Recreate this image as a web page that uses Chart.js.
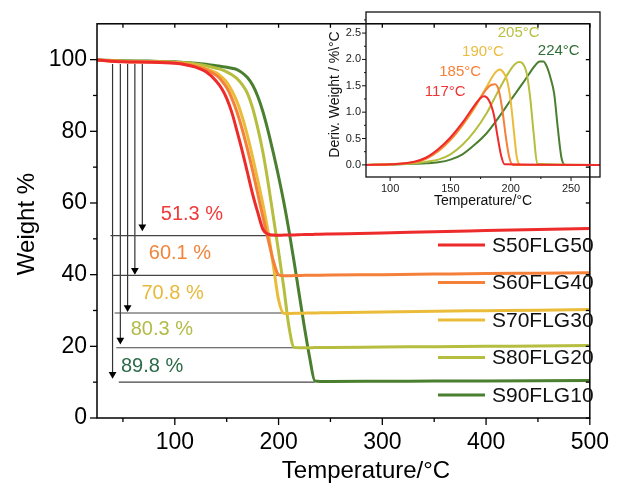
<!DOCTYPE html>
<html>
<head>
<meta charset="utf-8">
<script src="https://cdn.jsdelivr.net/npm/chart.js@4.4.1/dist/chart.umd.min.js"></script>
<style>
  html, body { margin: 0; padding: 0; background: #fff; }
  #wrap { position: relative; width: 620px; height: 492px; }
  #main { position: absolute; left: 0; top: 0; }
  #inset { position: absolute; left: 300px; top: 0; }
</style>
</head>
<body>
<div id="wrap">
  <canvas id="main" width="620" height="492"></canvas>
  <canvas id="inset" width="310" height="215"></canvas>
</div>
<script>
Chart.defaults.font.family = '"Liberation Sans", Arial, Helvetica, sans-serif';
Chart.defaults.color = '#000';

var samples = ['S50FLG50', 'S60FLG40', 'S70FLG30', 'S80FLG20', 'S90FLG10'];
var lineColors = ['#ee2b2b', '#f5803a', '#ebbc3a', '#b5be3e', '#4a7f30'];

// TGA (main chart)
var temps = [25, 50, 75, 100, 110, 120, 130, 140, 145, 150, 155, 160, 165, 170, 175, 180, 185, 190, 195, 200,
             205, 210, 215, 220, 225, 230, 235, 240, 250, 300, 350, 400, 450, 500];
var wS50 = [99.9, 99.4, 99.3, 99.0, 98.6, 97.9, 96.6, 94.0, 92.0, 89.2, 85.2, 80.0, 74.5, 68.5, 62.5, 57.3, 52.6, 51.3, 51.05, 51.0,
            51.05, 51.1, 51.1, 51.15, 51.2, 51.2, 51.25, 51.3, 51.35, 51.6, 52.0, 52.3, 52.6, 52.9];
var wS60 = [99.9, 99.5, 99.4, 99.1, 98.8, 98.2, 97.2, 95.6, 94.2, 92.2, 89.2, 85.3, 80.5, 75.0, 69.0, 62.5, 56.0, 49.8, 43.8, 40.0,
            39.7, 39.7, 39.75, 39.75, 39.8, 39.8, 39.8, 39.85, 39.9, 40.0, 40.15, 40.3, 40.4, 40.5];
var wS70 = [99.9, 99.5, 99.4, 99.2, 98.9, 98.4, 97.5, 96.3, 95.2, 93.7, 91.3, 88.2, 84.0, 78.8, 72.8, 66.3, 59.5, 51.8, 42.5, 33.0,
            29.2, 29.15, 29.2, 29.2, 29.25, 29.3, 29.3, 29.35, 29.4, 29.6, 29.8, 29.95, 30.1, 30.3];
var wS80 = [99.9, 99.6, 99.5, 99.3, 99.1, 98.8, 98.3, 97.6, 97.2, 96.6, 95.8, 94.7, 93.0, 90.6, 86.5, 80.8, 74.0, 65.5, 56.0, 46.5,
            36.5, 25.5, 19.7, 19.6, 19.6, 19.6, 19.65, 19.65, 19.7, 19.8, 19.9, 20.0, 20.1, 20.2];
var wS90 = [99.9, 99.7, 99.6, 99.4, 99.2, 99.0, 98.7, 98.3, 98.1, 97.9, 97.6, 97.2, 96.3, 95.0, 92.9, 89.7, 85.4, 80.0, 73.9, 67.4,
            60.3, 52.3, 43.5, 34.3, 25.2, 16.8, 10.3, 10.2, 10.2, 10.25, 10.3, 10.35, 10.4, 10.45];
var weights = [wS50, wS60, wS70, wS80, wS90];

// residue guide lines and arrows
var residueLevel = [50.9, 39.8, 29.3, 19.6, 10.0];
var residueFrom = [38, 40, 42, 43.6, 46];
var residueTo = [200.8, 204, 205.5, 219, 234.7];
var arrowT = [68.7, 61.5, 54.5, 47.5, 40];
var arrowTop = 98.8;
var arrowTip = [53.4, 41.2, 30.8, 21.8, 12.2];
var lossText = ['51.3 %', '60.1 %', '70.8 %', '80.3 %', '89.8 %'];
var lossColors = ['#ef3a3a', '#f2843c', '#e8b83a', '#b3bb48', '#2c6b47'];
var lossAt = [[116.5, 56.8], [104.9, 45.9], [97.9, 34.8], [87.5, 24.7], [78.1, 14.5]];

var xMajor = [100, 200, 300, 400, 500];
var xMinor = [50, 150, 250, 350, 450];
var yMajor = [0, 20, 40, 60, 80, 100];
var yMinor = [10, 30, 50, 70, 90];

// DTG (inset)
var dtgT50 = [80, 100, 120, 130, 140, 150, 160, 170, 175, 178, 182, 186, 189, 192, 195, 274];
var dtg50 = [0, 0.01, 0.06, 0.14, 0.30, 0.52, 0.80, 1.13, 1.27, 1.30, 1.22, 0.95, 0.55, 0.18, 0.01, 0];
var dtgT60 = [80, 100, 120, 130, 140, 150, 160, 170, 175, 180, 184, 187, 190, 193, 196, 199, 202, 274];
var dtg60 = [0, 0.01, 0.05, 0.12, 0.27, 0.48, 0.76, 1.10, 1.28, 1.44, 1.52, 1.53, 1.42, 1.05, 0.52, 0.12, 0, 0];
var dtgT70 = [80, 100, 120, 130, 140, 150, 160, 170, 175, 180, 185, 188, 191, 194, 197, 200, 203, 205, 208, 274];
var dtg70 = [0, 0.01, 0.05, 0.12, 0.26, 0.47, 0.75, 1.08, 1.28, 1.48, 1.68, 1.77, 1.81, 1.75, 1.60, 1.20, 0.55, 0.15, 0, 0];
var dtgT80 = [80, 100, 120, 130, 140, 150, 160, 170, 180, 186, 192, 198, 203, 207, 210, 213, 216, 219, 222, 274];
var dtg80 = [0, 0.005, 0.03, 0.06, 0.10, 0.20, 0.38, 0.64, 0.98, 1.24, 1.50, 1.74, 1.90, 1.95, 1.92, 1.76, 1.30, 0.60, 0.02, 0];
var dtgT90 = [80, 100, 120, 130, 140, 150, 160, 170, 180, 190, 200, 210, 215, 220, 224, 227, 230, 233, 236, 239, 242, 245, 274];
var dtg90 = [0, 0.005, 0.02, 0.03, 0.05, 0.10, 0.20, 0.38, 0.60, 0.90, 1.23, 1.55, 1.72, 1.88, 1.96, 1.96, 1.86, 1.65, 1.35, 0.70, 0.14, 0, 0];
var dtgTemps = [dtgT50, dtgT60, dtgT70, dtgT80, dtgT90];
var dtgVals = [dtg50, dtg60, dtg70, dtg80, dtg90];

var peakText = ['117°C', '185°C', '190°C', '205°C', '224°C'];
var peakColors = ['#ee3535', '#f5813a', '#ecbc40', '#b8c040', '#2f6f35'];
var peakAt = [[145.7, 1.38], [158.1, 1.76], [177, 2.14], [206.6, 2.51], [239.8, 2.16]];

var insetXMajor = [100, 150, 200, 250];
var insetXMinor = [125, 175, 225];
var insetYMajor = [0, 0.5, 1.0, 1.5, 2.0, 2.5];
var insetYMinor = [0.25, 0.75, 1.25, 1.75, 2.25, 2.75];

function pts(xs, ys) {
  return xs.map(function (x, i) { return { x: x, y: ys[i] }; });
}

function tickSet(ctx, scale, values, pos, len, vertical) {
  values.forEach(function (v) {
    var p = scale.getPixelForValue(v);
    ctx.beginPath();
    if (vertical) { ctx.moveTo(p, pos); ctx.lineTo(p, pos + len); }
    else { ctx.moveTo(pos, p); ctx.lineTo(pos + len, p); }
    ctx.stroke();
  });
}

// ---------- main chart ----------
var mainSets = [];
weights.forEach(function (w, i) {
  mainSets.push({
    label: samples[i], data: pts(temps, w), borderColor: lineColors[i],
    borderWidth: 3, pointRadius: 0, cubicInterpolationMode: 'monotone'
  });
});
residueLevel.forEach(function (lv, i) {
  mainSets.push({
    label: 'guide', data: [{ x: residueFrom[i], y: lv }, { x: residueTo[i], y: lv }],
    borderColor: '#444', borderWidth: 1.2, pointRadius: 0
  });
  mainSets.push({
    label: 'arrow', data: [{ x: arrowT[i], y: arrowTop }, { x: arrowT[i], y: arrowTip[i] }],
    borderColor: '#333', borderWidth: 1.2, pointRadius: [0, 4.5], pointStyle: 'triangle',
    pointRotation: 180, pointBackgroundColor: '#000', pointBorderWidth: 0
  });
});

var mainDecor = {
  id: 'mainDecor',
  afterDraw: function (chart) {
    var ctx = chart.ctx, a = chart.chartArea;
    var xs = chart.scales.x, ys = chart.scales.y;
    ctx.save();
    ctx.strokeStyle = '#000';
    ctx.lineWidth = 1.5;
    ctx.strokeRect(a.left, a.top, a.right - a.left, a.bottom - a.top);
    ctx.lineWidth = 1.3;
    tickSet(ctx, xs, xMajor, a.bottom, 7, true);
    tickSet(ctx, xs, xMinor, a.bottom, 4, true);
    tickSet(ctx, xs, xMajor.concat(xMinor), a.top, 4, true);
    tickSet(ctx, ys, yMajor, a.left, -7, false);
    tickSet(ctx, ys, yMinor, a.left, -4, false);
    tickSet(ctx, ys, yMajor.concat(yMinor), a.right, -4, false);

    ctx.textAlign = 'center';
    ctx.textBaseline = 'middle';
    ctx.font = '20px "Liberation Sans", Arial, sans-serif';
    lossText.forEach(function (t, i) {
      ctx.fillStyle = lossColors[i];
      ctx.fillText(t, xs.getPixelForValue(lossAt[i][0]), ys.getPixelForValue(lossAt[i][1]));
    });

    // legend
    ctx.font = '21px "Liberation Sans", Arial, sans-serif';
    ctx.textAlign = 'left';
    samples.forEach(function (s, i) {
      var y = 245 + i * 37.5;
      ctx.strokeStyle = lineColors[i];
      ctx.lineWidth = 3;
      ctx.beginPath(); ctx.moveTo(438, y); ctx.lineTo(485, y); ctx.stroke();
      ctx.fillStyle = '#111';
      ctx.fillText(s, 492, y + 1);
    });

    // axis titles
    ctx.fillStyle = '#000';
    ctx.font = '24px "Liberation Sans", Arial, sans-serif';
    ctx.textAlign = 'center';
    ctx.fillText('Temperature/°C', 366, 471);
    ctx.translate(27, 224);
    ctx.rotate(-Math.PI / 2);
    ctx.fillText('Weight %', 0, 0);
    ctx.restore();
  }
};

new Chart(document.getElementById('main').getContext('2d'), {
  type: 'line',
  data: { datasets: mainSets },
  options: {
    responsive: false,
    animation: false,
    events: [],
    layout: { padding: { top: 12, right: 20, left: 0, bottom: 0 } },
    plugins: { legend: { display: false }, tooltip: { enabled: false } },
    scales: {
      x: {
        type: 'linear', min: 25, max: 500,
        afterFit: function (s) { s.height = 74; },
        grid: { display: false, drawTicks: false },
        border: { display: false },
        ticks: { stepSize: 100, includeBounds: false, padding: 11, font: { size: 23 }, color: '#000' }
      },
      y: {
        type: 'linear', min: 0, max: 110,
        afterFit: function (s) { s.width = 97; },
        grid: { display: false, drawTicks: false },
        border: { display: false },
        ticks: { stepSize: 20, includeBounds: false, padding: 10, font: { size: 23 }, color: '#000' }
      }
    }
  },
  plugins: [mainDecor]
});

// ---------- inset ----------
var insetSets = dtgVals.map(function (d, i) {
  return {
    label: samples[i], data: pts(dtgTemps[i], d), borderColor: lineColors[i],
    borderWidth: 2, pointRadius: 0, cubicInterpolationMode: 'monotone'
  };
});

var insetDecor = {
  id: 'insetDecor',
  afterDraw: function (chart) {
    var ctx = chart.ctx, a = chart.chartArea;
    var xs = chart.scales.x, ys = chart.scales.y;
    ctx.save();
    ctx.strokeStyle = '#111';
    ctx.lineWidth = 1.3;
    ctx.strokeRect(a.left, a.top, a.right - a.left, a.bottom - a.top);
    ctx.lineWidth = 1;
    tickSet(ctx, xs, insetXMajor, a.bottom, 4, true);
    tickSet(ctx, xs, insetXMinor, a.bottom, 2, true);
    tickSet(ctx, ys, insetYMajor, a.left, -4, false);
    tickSet(ctx, ys, insetYMinor, a.left, -2, false);

    ctx.textAlign = 'center';
    ctx.textBaseline = 'middle';
    ctx.font = '15px "Liberation Sans", Arial, sans-serif';
    peakText.forEach(function (t, i) {
      ctx.fillStyle = peakColors[i];
      ctx.fillText(t, xs.getPixelForValue(peakAt[i][0]), ys.getPixelForValue(peakAt[i][1]));
    });

    ctx.fillStyle = '#111';
    ctx.font = '14px "Liberation Sans", Arial, sans-serif';
    ctx.fillText('Temperature/°C', (a.left + a.right) / 2, a.bottom + 24);
    ctx.translate(a.left - 31, (a.top + a.bottom) / 2);
    ctx.rotate(-Math.PI / 2);
    ctx.fillText('Deriv. Weight / %\\°C', 0, 0);
    ctx.restore();
  }
};

new Chart(document.getElementById('inset').getContext('2d'), {
  type: 'line',
  data: { datasets: insetSets },
  options: {
    responsive: false,
    animation: false,
    events: [],
    layout: { padding: { top: 12, right: 10, left: 0, bottom: 0 } },
    plugins: { legend: { display: false }, tooltip: { enabled: false } },
    scales: {
      x: {
        type: 'linear', min: 80, max: 274,
        afterFit: function (s) { s.height = 38; },
        grid: { display: false, drawTicks: false },
        border: { display: false },
        ticks: { stepSize: 50, includeBounds: false, padding: 5, font: { size: 11 }, color: '#222' }
      },
      y: {
        type: 'linear', min: -0.23, max: 2.9,
        afterFit: function (s) { s.width = 66; },
        grid: { display: false, drawTicks: false },
        border: { display: false },
        ticks: {
          stepSize: 0.5, includeBounds: false, padding: 5, font: { size: 11 }, color: '#222',
          callback: function (v) { return v.toFixed(1); }
        }
      }
    }
  },
  plugins: [insetDecor]
});
</script>
</body>
</html>
